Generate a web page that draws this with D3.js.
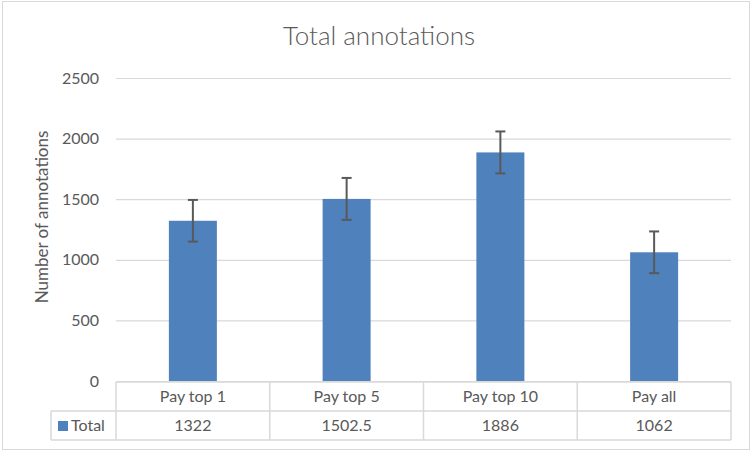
<!DOCTYPE html>
<html>
<head>
<meta charset="utf-8">
<script src="https://cdn.jsdelivr.net/npm/d3@7"></script>
<style>
  body { margin: 0; background: #fff; }
  text { font-family: Lato, "Open Sans", sans-serif; fill: #595959; }
</style>
</head>
<body>
<div id="chart"></div>
<script>
// data
var categories = ["Pay top 1", "Pay top 5", "Pay top 10", "Pay all"];
var totals = [1322, 1502.5, 1886, 1062];
var errors = [172, 173, 173, 172];
var yTicks = [0, 500, 1000, 1500, 2000, 2500];
var seriesName = "Total";

var svgWidth = 752;
var svgHeight = 452;
var plotLeft = 116, plotRight = 731, plotTop = 78, plotBottom = 381;
var rowH = 29;

var svg = d3.select("#chart")
  .append("svg")
  .attr("width", svgWidth)
  .attr("height", svgHeight);

// outer chart border
svg.append("rect")
  .attr("x", 2.5).attr("y", 1.5)
  .attr("width", 747).attr("height", 448)
  .attr("fill", "none")
  .attr("stroke", "#d9d9d9");

// title
svg.append("text")
  .attr("x", 379).attr("y", 45)
  .attr("text-anchor", "middle")
  .attr("font-size", 26)
  .attr("font-weight", 300)
  .text("Total annotations");

var xScale = d3.scaleBand()
  .domain(categories)
  .range([plotLeft, plotRight]);

var yScale = d3.scaleLinear()
  .domain([0, 2500])
  .range([plotBottom, plotTop]);

// gridlines + tick labels
var yAxis = d3.axisLeft(yScale)
  .tickValues(yTicks)
  .tickFormat(d3.format("d"))
  .tickSize(-(plotRight - plotLeft))
  .tickPadding(17);

var gy = svg.append("g")
  .attr("transform", "translate(" + plotLeft + ",0)")
  .call(yAxis);
gy.select(".domain").remove();
gy.selectAll(".tick line")
  .attr("stroke", "#d9d9d9")
  .attr("stroke-width", 1.2);
gy.selectAll(".tick text")
  .attr("font-size", 16)
  .attr("fill", "#595959")
  .style("font-family", "Lato, sans-serif");

// y axis title
svg.append("text")
  .attr("transform", "translate(48,217) rotate(-90)")
  .attr("text-anchor", "middle")
  .attr("font-size", 17)
  .text("Number of annotations");

// bars
var barW = 48;
svg.selectAll(".bar")
  .data(totals)
  .enter()
  .append("rect")
  .attr("class", "bar")
  .attr("x", function(d, i) { return xScale(categories[i]) + xScale.bandwidth() / 2 - barW / 2; })
  .attr("y", function(d) { return yScale(d); })
  .attr("width", barW)
  .attr("height", function(d) { return yScale(0) - yScale(d); })
  .attr("fill", "#4f81bd");

// error bars
var errG = svg.selectAll(".err")
  .data(totals)
  .enter()
  .append("g")
  .attr("class", "err")
  .attr("stroke", "#595959")
  .attr("stroke-width", 2);
errG.append("line")
  .attr("x1", function(d, i) { return xScale(categories[i]) + xScale.bandwidth() / 2; })
  .attr("x2", function(d, i) { return xScale(categories[i]) + xScale.bandwidth() / 2; })
  .attr("y1", function(d, i) { return yScale(d + errors[i]); })
  .attr("y2", function(d, i) { return yScale(d - errors[i]); });
[1, -1].forEach(function(sign) {
  errG.append("line")
    .attr("x1", function(d, i) { return xScale(categories[i]) + xScale.bandwidth() / 2 - 5; })
    .attr("x2", function(d, i) { return xScale(categories[i]) + xScale.bandwidth() / 2 + 5; })
    .attr("y1", function(d, i) { return yScale(d + sign * errors[i]); })
    .attr("y2", function(d, i) { return yScale(d + sign * errors[i]); });
});

// data table
var table = svg.append("g")
  .attr("stroke", "#d9d9d9")
  .attr("stroke-width", 1.5)
  .attr("fill", "none");
var tTop = plotBottom + 1, tMid = tTop + rowH, tBot = tMid + rowH;
var legLeft = 51;
table.append("line").attr("x1", plotLeft).attr("x2", plotRight).attr("y1", tTop).attr("y2", tTop);
table.append("line").attr("x1", legLeft).attr("x2", plotRight).attr("y1", tMid).attr("y2", tMid);
table.append("line").attr("x1", legLeft).attr("x2", plotRight).attr("y1", tBot).attr("y2", tBot);
table.append("line").attr("x1", legLeft).attr("x2", legLeft).attr("y1", tMid).attr("y2", tBot);
var vLines = categories.map(function(c) { return xScale(c); }).concat([plotRight]);
table.selectAll(".v")
  .data(vLines)
  .enter()
  .append("line")
  .attr("x1", function(d) { return d; })
  .attr("x2", function(d) { return d; })
  .attr("y1", tTop)
  .attr("y2", tBot);

svg.selectAll(".catText")
  .data(categories)
  .enter()
  .append("text")
  .attr("x", function(d) { return xScale(d) + xScale.bandwidth() / 2; })
  .attr("y", tTop + 20)
  .attr("text-anchor", "middle")
  .attr("font-size", 16)
  .text(function(d) { return d; });

svg.selectAll(".valText")
  .data(totals)
  .enter()
  .append("text")
  .attr("x", function(d, i) { return xScale(categories[i]) + xScale.bandwidth() / 2; })
  .attr("y", tMid + 20)
  .attr("text-anchor", "middle")
  .attr("font-size", 16)
  .text(function(d) { return d; });

// legend key inside table
svg.append("rect")
  .attr("x", 58).attr("y", tMid + 10)
  .attr("width", 10).attr("height", 10)
  .attr("fill", "#4f81bd");
svg.append("text")
  .attr("x", 71).attr("y", tMid + 20)
  .attr("font-size", 16)
  .text(seriesName);
</script>
</body>
</html>
